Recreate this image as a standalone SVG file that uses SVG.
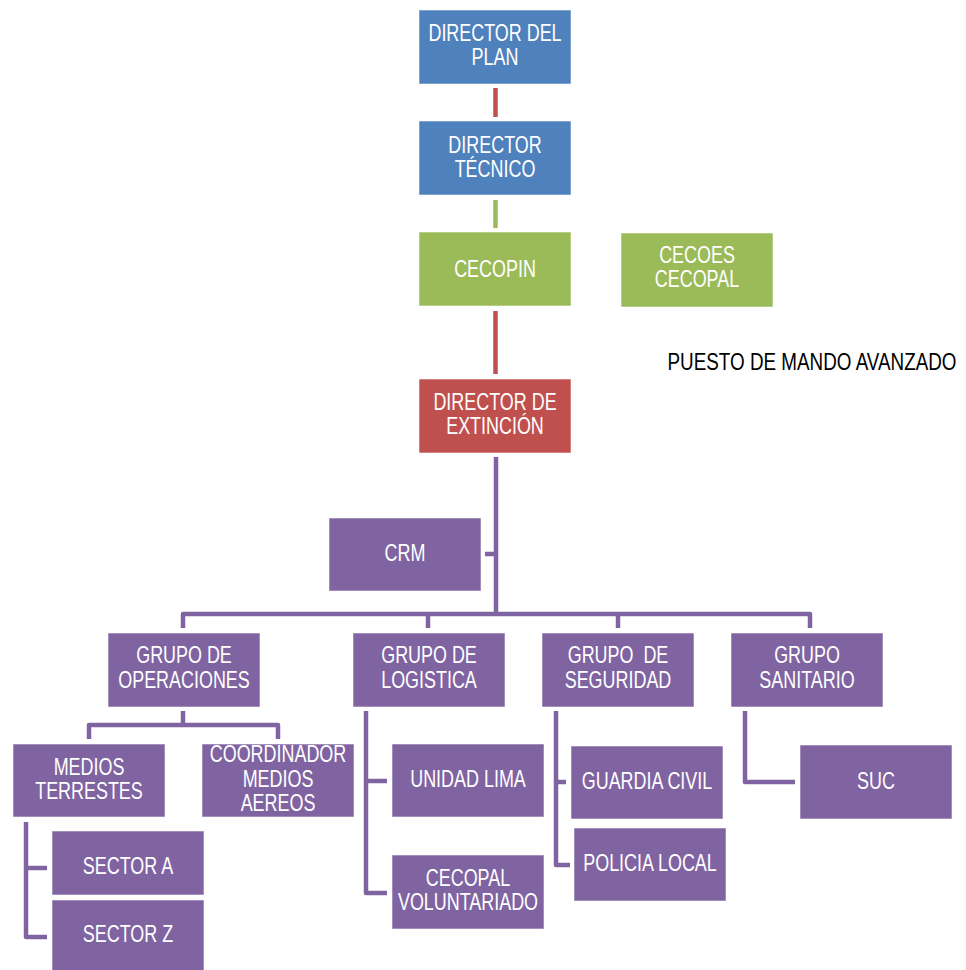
<svg xmlns="http://www.w3.org/2000/svg" width="966" height="970" viewBox="0 0 966 970">
<style>
.b{stroke:#ffffff;stroke-opacity:0.55;stroke-width:1}
.blue{fill:#4F81BD}.green{fill:#9BBB59}.red{fill:#C0504D}.purple{fill:#8064A2}
.t{font-family:"Liberation Sans",Arial,sans-serif;font-size:23px;fill:#ffffff;text-anchor:middle}
.k{font-family:"Liberation Sans",Arial,sans-serif;font-size:23px;fill:#000000;text-anchor:middle}
.c{fill:none;stroke-width:4.5;stroke-linejoin:round}
.cr{stroke:#C0504D}.cg{stroke:#9BBB59}.cp{stroke:#8064A2}
</style>
<rect width="966" height="970" fill="#ffffff"/>
<g id="connectors">
<path class="c cr" d="M495.5 88V117"/>
<path class="c cg" d="M495.5 200V228"/>
<path class="c cr" d="M495.5 311V374"/>
<path class="c cp" d="M496 457V616"/>
<path class="c cp" d="M485 554H496"/>
<path class="c cp" d="M183 628V614H810V628"/>
<path class="c cp" d="M428 614V628"/>
<path class="c cp" d="M618 614V628"/>
<path class="c cp" d="M183 711V725"/>
<path class="c cp" d="M89 739V725H278V739"/>
<path class="c cp" d="M26 822V937H47"/>
<path class="c cp" d="M26 868H47"/>
<path class="c cp" d="M366 711V893H387"/>
<path class="c cp" d="M366 781H387"/>
<path class="c cp" d="M556 711V865H570"/>
<path class="c cp" d="M556 782H566"/>
<path class="c cp" d="M745 711V782H795"/>
</g>
<g id="director-plan">
<rect class="b blue" x="419" y="10" width="152" height="74"/>
<text class="t" transform="matrix(0.78 0 0 1 495 0)"><tspan x="0" y="41">DIRECTOR DEL</tspan><tspan x="0" y="65">PLAN</tspan></text>
</g>
<g id="director-tecnico">
<rect class="b blue" x="419" y="121" width="152" height="74"/>
<text class="t" transform="matrix(0.78 0 0 1 495 0)"><tspan x="0" y="153">DIRECTOR</tspan><tspan x="0" y="177">TÉCNICO</tspan></text>
</g>
<g id="cecopin">
<rect class="b green" x="419" y="232" width="152" height="74"/>
<text class="t" transform="matrix(0.78 0 0 1 495 0)" x="0" y="277">CECOPIN</text>
</g>
<g id="cecoes-cecopal">
<rect class="b green" x="621" y="233" width="152" height="74"/>
<text class="t" transform="matrix(0.78 0 0 1 697 0)"><tspan x="0" y="263">CECOES</tspan><tspan x="0" y="287">CECOPAL</tspan></text>
</g>
<g id="puesto-mando">
<text class="k" transform="matrix(0.82 0 0 1 812 0)" x="0" y="370">PUESTO DE MANDO AVANZADO</text>
</g>
<g id="director-extincion">
<rect class="b red" x="419" y="379" width="152" height="74"/>
<text class="t" transform="matrix(0.78 0 0 1 495 0)"><tspan x="0" y="410">DIRECTOR DE</tspan><tspan x="0" y="434">EXTINCIÓN</tspan></text>
</g>
<g id="crm">
<rect class="b purple" x="329" y="518" width="152" height="73"/>
<text class="t" transform="matrix(0.78 0 0 1 405 0)" x="0" y="561">CRM</text>
</g>
<g id="grupo-operaciones">
<rect class="b purple" x="108" y="633" width="152" height="74"/>
<text class="t" transform="matrix(0.78 0 0 1 184 0)"><tspan x="0" y="663">GRUPO DE</tspan><tspan x="0" y="688">OPERACIONES</tspan></text>
</g>
<g id="grupo-logistica">
<rect class="b purple" x="353" y="633" width="152" height="74"/>
<text class="t" transform="matrix(0.78 0 0 1 429 0)"><tspan x="0" y="663">GRUPO DE</tspan><tspan x="0" y="688">LOGISTICA</tspan></text>
</g>
<g id="grupo-seguridad">
<rect class="b purple" x="542" y="633" width="152" height="74"/>
<text class="t" transform="matrix(0.78 0 0 1 618 0)" xml:space="preserve"><tspan x="0" y="663">GRUPO  DE</tspan><tspan x="0" y="688">SEGURIDAD</tspan></text>
</g>
<g id="grupo-sanitario">
<rect class="b purple" x="731" y="633" width="152" height="74"/>
<text class="t" transform="matrix(0.78 0 0 1 807 0)"><tspan x="0" y="663">GRUPO</tspan><tspan x="0" y="688">SANITARIO</tspan></text>
</g>
<g id="medios-terrestes">
<rect class="b purple" x="13" y="744" width="152" height="73"/>
<text class="t" transform="matrix(0.78 0 0 1 89 0)"><tspan x="0" y="775">MEDIOS</tspan><tspan x="0" y="799">TERRESTES</tspan></text>
</g>
<g id="coordinador-medios-aereos">
<rect class="b purple" x="202" y="744" width="152" height="73"/>
<text class="t" transform="matrix(0.78 0 0 1 278 0)"><tspan x="0" y="762">COORDINADOR</tspan><tspan x="0" y="787">MEDIOS</tspan><tspan x="0" y="811">AEREOS</tspan></text>
</g>
<g id="sector-a">
<rect class="b purple" x="52" y="831" width="152" height="64"/>
<text class="t" transform="matrix(0.78 0 0 1 128 0)" x="0" y="874">SECTOR A</text>
</g>
<g id="sector-z">
<rect class="b purple" x="52" y="900" width="152" height="72"/>
<text class="t" transform="matrix(0.78 0 0 1 128 0)" x="0" y="942">SECTOR Z</text>
</g>
<g id="unidad-lima">
<rect class="b purple" x="392" y="744" width="152" height="73"/>
<text class="t" transform="matrix(0.78 0 0 1 468 0)" x="0" y="787">UNIDAD LIMA</text>
</g>
<g id="cecopal-voluntariado">
<rect class="b purple" x="392" y="855" width="152" height="74"/>
<text class="t" transform="matrix(0.78 0 0 1 468 0)"><tspan x="0" y="886">CECOPAL</tspan><tspan x="0" y="910">VOLUNTARIADO</tspan></text>
</g>
<g id="guardia-civil">
<rect class="b purple" x="571" y="746" width="152" height="73"/>
<text class="t" transform="matrix(0.78 0 0 1 647 0)" x="0" y="789">GUARDIA CIVIL</text>
</g>
<g id="policia-local">
<rect class="b purple" x="574" y="828" width="152" height="73"/>
<text class="t" transform="matrix(0.78 0 0 1 650 0)" x="0" y="871">POLICIA LOCAL</text>
</g>
<g id="suc">
<rect class="b purple" x="800" y="745" width="152" height="74"/>
<text class="t" transform="matrix(0.78 0 0 1 876 0)" x="0" y="789">SUC</text>
</g>
</svg>
